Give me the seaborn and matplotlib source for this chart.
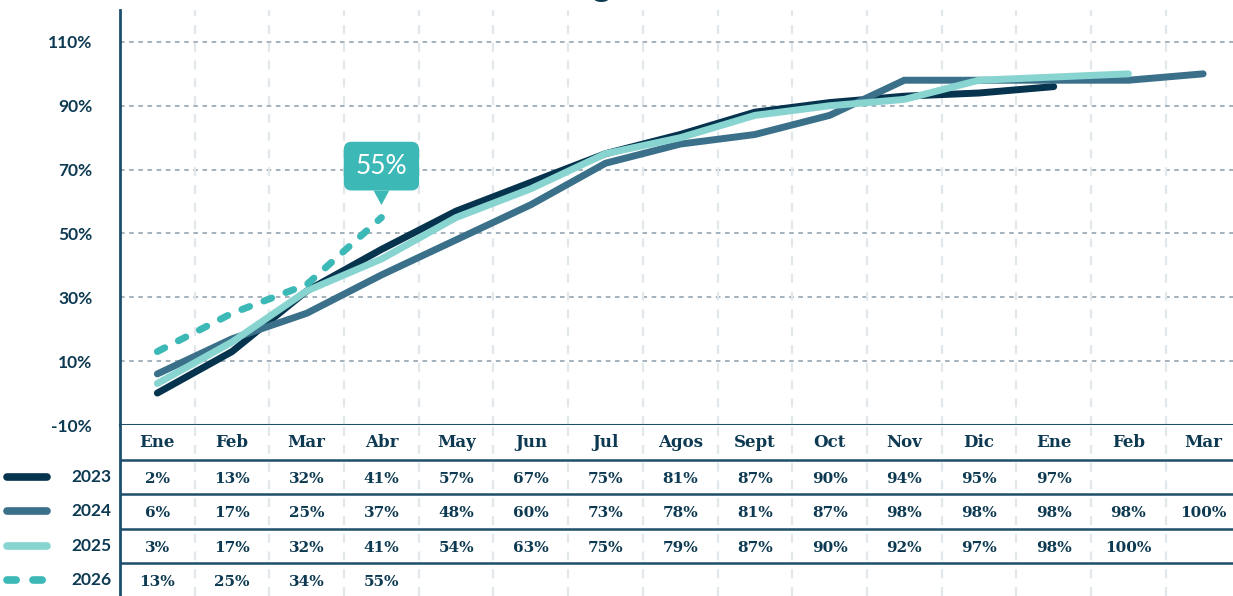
import numpy as np
import pandas as pd
import matplotlib
matplotlib.use('Agg')
import matplotlib.pyplot as plt
import matplotlib.transforms as mtransforms
import seaborn as sns

# Months shown on the x axis (Jan of year 1 to Mar of year 2)
months = ['Ene', 'Feb', 'Mar', 'Abr', 'May', 'Jun', 'Jul', 'Agos', 'Sept',
          'Oct', 'Nov', 'Dic', 'Ene', 'Feb', 'Mar']
years = ['2023', '2024', '2025', '2026']

# Values printed in the table
table_2023 = [2, 13, 32, 41, 57, 67, 75, 81, 87, 90, 94, 95, 97]
table_2024 = [6, 17, 25, 37, 48, 60, 73, 78, 81, 87, 98, 98, 98, 98, 100]
table_2025 = [3, 17, 32, 41, 54, 63, 75, 79, 87, 90, 92, 97, 98, 100]
table_2026 = [13, 25, 34, 55]

# Values as drawn by the lines (2023 line differs slightly from its table)
line_2023 = [0, 13, 32, 45, 57, 66, 75, 81, 88, 91, 93, 94, 96]
line_2024 = [6, 17, 25, 37, 48, 59, 72, 78, 81, 87, 98, 98, 98, 98, 100]
line_2025 = [3, 16, 32, 42, 55, 64, 75, 80, 87, 90, 92, 98, 99, 100]
line_2026 = [13, 25, 34, 55]

y_ticks = [-10, 10, 30, 50, 70, 90, 110]
title = 'Avance - Pagos acumulados'

colors = {'2023': '#06334d', '2024': '#3a7089', '2025': '#88d4d0', '2026': '#3cb9b7'}
dash_map = {'2023': '', '2024': '', '2025': '', '2026': (1.2, 2.2)}
text_color = '#0d3a52'
rule_color = '#1d4f6c'

# Long-form frame for seaborn
rows = []
for yr, vals in zip(years, [line_2023, line_2024, line_2025, line_2026]):
    for i, v in enumerate(vals):
        rows.append({'mes': i, 'pct': v, 'year': yr})
df = pd.DataFrame(rows)

sns.set_style('white')
plt.rcParams['font.family'] = ['Lato', 'DejaVu Sans']

W, H = 1233, 596
fig = plt.figure(figsize=(W / 100, H / 100), dpi=100)
ax = fig.add_axes([120 / W, 171 / H, 1113 / W, 415 / H])
tab = fig.add_axes([120 / W, 0, 1113 / W, 171 / H])

xlim = (-0.5, 14.4)

# Background grids
for t in y_ticks[1:]:
    ax.axhline(t, color='#8c9daa', lw=1.1, ls=(0, (3, 3)), zorder=0)
for a in (ax, tab):
    for k in range(len(months) - 1):
        a.axvline(k + 0.5, color='#e1e7eb', lw=1.6, ls=(0, (4, 4)), zorder=0)

sns.lineplot(data=df, x='mes', y='pct', hue='year', style='year',
             hue_order=years, style_order=years, palette=colors,
             dashes=dash_map, linewidth=5, legend=False, ax=ax,
             solid_capstyle='round', dash_capstyle='round',
             solid_joinstyle='miter', zorder=3)

ax.set_xlim(*xlim)
ax.set_ylim(-10, 120)
ax.set_xticks([])
ax.set_yticks(y_ticks)
ax.set_yticklabels([f'{t}%' for t in y_ticks], fontsize=12.5,
                   fontweight='bold', color=text_color)
ax.tick_params(axis='y', length=0, pad=20)
ax.set_xlabel('')
ax.set_ylabel('')
for s in ['top', 'right']:
    ax.spines[s].set_visible(False)
ax.spines['left'].set_color(rule_color)
ax.spines['left'].set_linewidth(2)
ax.spines['bottom'].set_color(rule_color)
ax.spines['bottom'].set_linewidth(2.2)

# Callout for the last 2026 value
last_x = len(line_2026) - 1
ax.annotate(f'{table_2026[-1]}%', xy=(last_x, line_2026[-1]), xytext=(0, 37),
            textcoords='offset points', ha='center', va='center',
            color='white', fontsize=19, zorder=5,
            bbox=dict(boxstyle='round,pad=0.45,rounding_size=0.3',
                      fc=colors['2026'], ec='none'),
            arrowprops=dict(arrowstyle='wedge,tail_width=0.6,shrink_factor=0.5',
                            fc=colors['2026'], ec='none', shrinkA=0, shrinkB=9))

# Table below the chart
tab.set_xlim(*xlim)
tab.set_ylim(4.45, -0.5)
tab.set_xticks([])
tab.set_yticks([])
for s in ['top', 'right', 'bottom']:
    tab.spines[s].set_visible(False)
tab.spines['left'].set_color(rule_color)
tab.spines['left'].set_linewidth(2)
for r in range(4):
    tab.axhline(r + 0.5, color=rule_color, lw=1.8, zorder=1)

serif = ['DejaVu Serif']
for i, m in enumerate(months):
    tab.text(i, 0, m, ha='center', va='center', fontsize=12,
             family=serif, fontweight='bold', color=text_color)

table_rows = [table_2023, table_2024, table_2025, table_2026]
for r, vals in enumerate(table_rows, start=1):
    for i, v in enumerate(vals):
        tab.text(i, r + 0.05, f'{v}%', ha='center', va='center', fontsize=11,
                 family=serif, fontweight='bold', color=text_color)

# Legend on the left of the table
trans = mtransforms.blended_transform_factory(tab.transAxes, tab.transData)
for r, yr in enumerate(years, start=1):
    ls = '-' if dash_map[yr] == '' else (0, dash_map[yr])
    tab.plot([-0.1015, -0.0655], [r, r], transform=trans, clip_on=False,
             color=colors[yr], lw=5.5, ls=ls, solid_capstyle='round',
             dash_capstyle='round')
    tab.text(-0.0075, r, yr, transform=trans, ha='right', va='center',
             fontsize=12.5, fontweight='bold', color=text_color)

# Title (sits almost entirely above the visible area, as in the source)
fig.text(0.507, 1.006, title, ha='center', va='baseline', fontsize=26,
         fontweight='bold', color=text_color)

fig.savefig('out.png', dpi=100)
